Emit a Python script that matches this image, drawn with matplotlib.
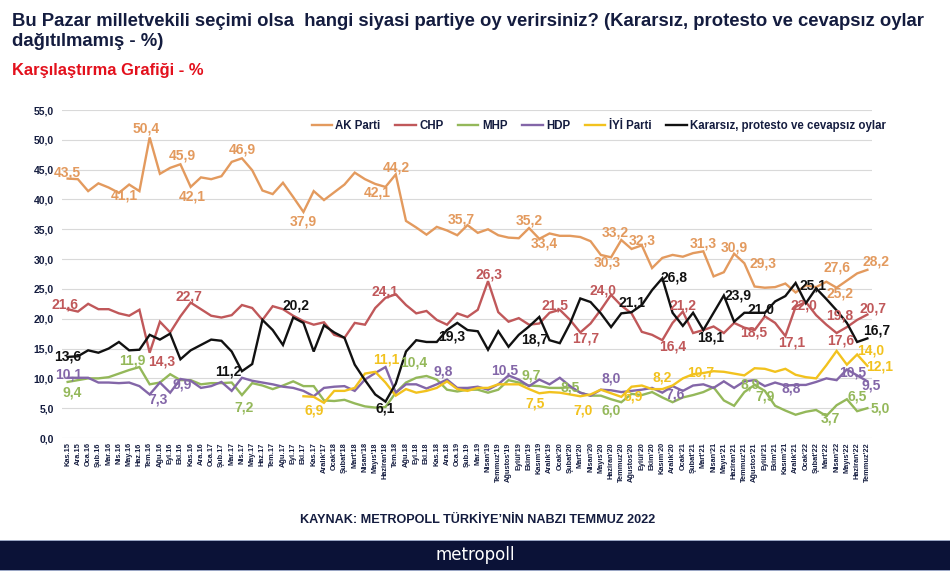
import numpy as np
import matplotlib.pyplot as plt
from matplotlib.patches import Rectangle

# x axis categories
months = ["Kas.15", "Ara.15", "Oca.16", "Şub.16", "Mar.16", "Nis.16", "May.16", "Haz.16", "Tem.16", "Ağu.16",
          "Eyl.16", "Ekl.16", "Kas.16", "Ara.16", "Oca.17", "Şub.17", "Mar.17", "Nis.17", "May.17", "Haz.17",
          "Tem.17", "Ağu.17", "Eyl.17", "Ekl.17", "Kas.17", "Aralık'17", "Ocak'18", "Şubat'18", "Mart'18", "Nisan'18",
          "Mayıs'18", "Haziran'18", "Tem.18", "Ağu.18", "Eyl.18", "Ekl.18", "Kas.18", "Ara.18", "Oca.19", "Şub.19",
          "Mar.19", "Nisan'19", "Temmuz'19", "Ağustos'19", "Eylül'19", "Ekim'19", "Kasım'19", "Aralık'19", "Ocak'20", "Şubat'20",
          "Mart'20", "Nisan'20", "Mayıs'20", "Haziran'20", "Temmuz'20", "Ağustos'20", "Eylül'20", "Ekim'20", "Kasım'20", "Aralık'20",
          "Ocak'21", "Şubat'21", "Mart'21", "Nisan'21", "Mayıs'21", "Haziran'21", "Temmuz'21", "Ağustos'21", "Eylül'21", "Ekim'21",
          "Kasım'21", "Aralık'21", "Ocak'22", "Şubat'22", "Mart'22", "Nisan'22", "Mayıs'22", "Haziran'22", "Temmuz'22"]

ak = [43.5, 43.4, 41.4, 42.7, 42.0, 41.1, 42.5, 41.4, 50.4, 44.3,
      45.3, 45.9, 42.1, 43.7, 43.4, 43.9, 46.3, 46.9, 44.9, 41.5,
      40.9, 42.8, 40.4, 37.9, 41.4, 39.9, 41.2, 42.5, 44.5, 43.4,
      42.6, 42.1, 44.2, 36.4, 35.3, 34.1, 35.4, 34.8, 34.0, 35.7,
      34.4, 35.0, 34.0, 33.6, 33.5, 35.2, 33.4, 34.3, 33.9, 33.9,
      33.7, 33.0, 30.7, 30.3, 33.2, 31.7, 32.3, 28.5, 30.2, 30.7,
      30.4, 31.0, 31.3, 27.1, 27.8, 30.9, 29.3, 25.4, 25.2, 25.3,
      25.9, 24.4, 25.6, 25.3, 26.2, 25.2, 26.4, 27.6, 28.2]

chp = [21.6, 21.2, 22.5, 21.6, 21.6, 20.9, 20.5, 21.5, 14.3, 19.5,
       17.7, 20.4, 22.7, 21.6, 20.5, 20.2, 20.6, 22.3, 21.8, 19.8,
       22.1, 21.6, 20.5, 19.6, 19.0, 19.4, 17.3, 16.8, 19.3, 19.0,
       21.8, 23.5, 24.1, 22.3, 20.9, 21.3, 19.8, 19.0, 20.9, 20.3,
       21.5, 26.3, 21.1, 19.5, 20.1, 19.0, 19.2, 21.0, 21.5, 19.8,
       17.7, 19.2, 21.5, 24.0, 22.2, 20.9, 17.8, 17.3, 16.4, 19.3,
       21.2, 17.6, 18.1, 18.7, 17.6, 19.3, 18.5, 18.1, 20.4, 19.3,
       17.1, 22.0, 22.8, 20.6, 19.0, 17.6, 18.6, 19.8, 20.7]

mhp = [9.4, 9.7, 10.0, 10.0, 10.2, 10.8, 11.4, 11.9, 9.0, 9.3,
       10.7, 9.7, 9.7, 9.0, 9.2, 9.2, 9.3, 7.2, 9.2, 8.8,
       8.2, 8.8, 9.5, 8.7, 8.7, 6.3, 6.2, 6.4, 5.8, 5.3,
       5.1, 5.2, 7.6, 9.3, 10.1, 10.4, 9.8, 8.1, 7.8, 8.1,
       8.1, 7.6, 8.1, 9.7, 9.3, 8.8, 8.7, 8.4, 8.4, 8.5,
       7.6, 7.1, 7.1, 6.5, 6.0, 7.4, 7.2, 7.7, 6.8, 6.0,
       6.8, 7.2, 7.7, 8.5, 6.3, 5.4, 7.7, 8.9, 7.9, 5.4,
       4.6, 3.9, 4.4, 4.7, 3.7, 5.5, 6.5, 4.5, 5.0]

hdp = [10.1, 10.1, 10.1, 9.3, 9.3, 9.2, 9.3, 8.7, 7.3, 9.3,
       7.6, 9.9, 9.6, 8.4, 8.7, 9.4, 7.9, 10.1, 9.6, 9.3,
       9.0, 8.6, 8.4, 7.9, 7.0, 8.4, 8.6, 8.7, 7.9, 9.8,
       10.9, 11.9, 7.6, 9.0, 9.0, 8.3, 9.0, 9.8, 8.4, 8.4,
       8.6, 8.1, 9.0, 10.5, 9.8, 8.7, 9.8, 9.0, 10.1, 8.7,
       7.6, 7.1, 8.1, 8.0, 7.7, 7.9, 8.1, 8.4, 7.6, 8.7,
       7.9, 8.8, 9.0, 8.4, 9.5, 8.4, 9.5, 9.7, 8.7, 9.3,
       8.8, 8.9, 8.9, 9.4, 10.0, 9.7, 11.5, 10.5, 9.5]

iyi = [np.nan] * 23 + [
       7.0, 6.9, 5.9, 7.9, 7.9, 8.4, 10.8,
       11.1, 9.3, 7.1, 8.2, 7.6, 7.9, 8.4, 9.5, 8.2, 7.9,
       8.4, 8.4, 9.0, 9.0, 9.0, 8.2, 7.5, 7.7, 7.6, 7.3,
       7.0, 7.3, 8.1, 7.5, 6.9, 8.6, 8.8, 8.2, 8.2, 8.8,
       10.0, 10.7, 10.9, 11.2, 11.1, 10.8, 10.5, 11.7, 11.6, 11.1,
       11.6, 10.6, 10.2, 10.0, 12.2, 14.6, 12.3, 14.0, 12.1]

kararsiz = [13.6, 13.7, 14.7, 14.3, 15.0, 16.1, 14.7, 14.8, 17.3, 16.5,
            17.5, 13.2, 14.7, 15.6, 16.5, 16.3, 14.5, 11.2, 12.4, 19.8,
            18.1, 15.6, 20.2, 19.3, 14.5, 18.9, 17.7, 16.8, 12.3, 9.7,
            7.3, 6.1, 9.1, 14.5, 16.4, 16.1, 16.1, 18.1, 19.3, 18.1,
            17.9, 14.8, 17.9, 15.3, 17.3, 18.7, 20.3, 16.4, 15.9, 19.2,
            23.4, 22.8, 20.9, 18.6, 20.9, 21.1, 22.3, 24.8, 26.8, 21.0,
            18.8, 21.0, 18.1, 21.0, 23.9, 19.5, 21.0, 21.0, 21.0, 22.9,
            23.8, 26.0, 22.6, 25.1, 23.3, 21.4, 19.3, 16.1, 16.7]

series = [
    ("AK Parti", ak, "#E39A5E"),
    ("CHP", chp, "#C0585A"),
    ("MHP", mhp, "#94B85A"),
    ("HDP", hdp, "#8366A8"),
    ("İYİ Parti", iyi, "#F2C21E"),
    ("Kararsız, protesto ve cevapsız oylar", kararsiz, "#111111"),
]

# data labels: (series index, point index, dx px, dy px)
labels = [
    (0, 0, 0, 6), (0, 5, 5, -3), (0, 8, -4, 9), (0, 11, 2, 9), (0, 12, 2, -10),
    (0, 17, 0, 9), (0, 23, 0, -10), (0, 31, -8, -6), (0, 32, 1, 7), (0, 39, -6, 6),
    (0, 45, 0, 8), (0, 46, 5, -5), (0, 53, -4, -5), (0, 54, -6, 8), (0, 56, 0, 5),
    (0, 62, 0, 8), (0, 65, 0, 6), (0, 66, 19, 0), (0, 75, 3, -6), (0, 77, -20, 6),
    (0, 78, 9, 8),
    (1, 0, -3, 5), (1, 8, 12, -9), (1, 12, -2, 6), (1, 32, -11, 3), (1, 41, 1, 7),
    (1, 48, -5, 4), (1, 50, 5, -6), (1, 53, -8, 4), (1, 58, 10, -6), (1, 60, 0, 6),
    (1, 66, 9, -5), (1, 70, 6, -6), (1, 71, 8, 1), (1, 75, 4, -7), (1, 77, -17, 4),
    (1, 78, 6, 6),
    (2, 0, 5, -11), (2, 7, -7, 7), (2, 17, 2, -12), (2, 35, -13, 13), (2, 43, 23, 5),
    (2, 49, 0, 0), (2, 54, -10, -8), (2, 67, -4, 0), (2, 68, 0, -6), (2, 74, 4, -3),
    (2, 76, 10, 3), (2, 78, 13, 0),
    (3, 0, 1, 3), (3, 8, 8, -5), (3, 11, 2, -6), (3, 37, -4, 8), (3, 43, -4, 5),
    (3, 53, 0, 12), (3, 58, 13, -2), (3, 70, 6, -3), (3, 77, -4, 3), (3, 78, 4, -4),
    (4, 24, 0, -14), (4, 30, 11, 12), (4, 46, -4, -10), (4, 50, 3, -14), (4, 54, 12, 0),
    (4, 58, 0, 12), (4, 61, 8, 2), (4, 77, 14, 4), (4, 78, 12, -1),
    (5, 0, 0, 0), (5, 17, -14, 0), (5, 22, 3, 12), (5, 31, 0, -7), (5, 38, -6, -14),
    (5, 45, 6, -13), (5, 55, 0, 10), (5, 58, 12, 1), (5, 62, 7, -7), (5, 64, 14, 0),
    (5, 67, 6, 3), (5, 73, -3, 3), (5, 78, 9, 8),
]

navy = "#141c3f"
plt.rcParams['font.family'] = ['Liberation Sans', 'DejaVu Sans']

fig = plt.figure(figsize=(9.5, 5.71), dpi=100)
ax = fig.add_axes([62 / 950, 1 - 438 / 571, 810 / 950, 328 / 571])

x = np.arange(len(months))
for name, vals, col in series:
    ax.plot(x, vals, color=col, lw=1.7, label=name, solid_joinstyle='miter')

for si, pi, dx, dy in labels:
    name, vals, col = series[si]
    v = vals[pi]
    ax.annotate(f"{v:.1f}".replace('.', ','), (x[pi], v),
                xytext=(dx * 0.72, dy * 0.72), textcoords='offset points',
                ha='center', va='center', fontsize=10, fontweight='bold', color=col)

ax.set_xlim(-0.55, 78.45)
ax.set_ylim(0, 55)
ax.set_yticks(np.arange(0, 56, 5))
ax.set_yticklabels([f"{t:.1f}".replace('.', ',') for t in np.arange(0, 56, 5)],
                   fontsize=7.5, fontweight='bold', color=navy)
ax.set_xticks(x)
ax.set_xticklabels(months, rotation=90, fontsize=5.3, fontweight='bold', color=navy)
ax.tick_params(axis='both', length=0, pad=6)
ax.tick_params(axis='x', pad=3)
ax.grid(axis='y', color='#d9d9d9', lw=0.8)
ax.set_axisbelow(True)
for s in ax.spines.values():
    s.set_visible(False)

leg = ax.legend(loc='upper right', bbox_to_anchor=(1.03, 1.0), ncol=6, frameon=False,
                handlelength=1.75, handletextpad=0.3, columnspacing=1.3,
                prop={'weight': 'bold', 'size': 8.3})
for t in leg.get_texts():
    t.set_color(navy)

# titles
fig.text(12 / 950, 1 - 21 / 571, "Bu Pazar milletvekili seçimi olsa  hangi siyasi partiye oy verirsiniz? (Kararsız, protesto ve cevapsız oylar",
         fontsize=13.3, fontweight='bold', color=navy, va='center', ha='left')
fig.text(12 / 950, 1 - 42 / 571, "dağıtılmamış - %)",
         fontsize=13.3, fontweight='bold', color=navy, va='center', ha='left')
fig.text(12 / 950, 1 - 71 / 571, "Karşılaştırma Grafiği - %",
         fontsize=11.9, fontweight='bold', color='#e3101c', va='center', ha='left')
fig.text(478 / 950, 1 - 520 / 571, "KAYNAK: METROPOLL TÜRKİYE’NİN NABZI TEMMUZ 2022",
         fontsize=9.1, fontweight='bold', color=navy, va='center', ha='center')

# footer band
fig.patches.append(Rectangle((0, 0), 1, 31 / 571, transform=fig.transFigure,
                             facecolor='#0b1237', edgecolor='none'))
fig.patches.append(Rectangle((0, 30 / 571), 1, 1.5 / 571, transform=fig.transFigure,
                             facecolor='#9aa6c4', edgecolor='none'))
fig.patches.append(Rectangle((0, 0), 1, 1.5 / 571, transform=fig.transFigure,
                             facecolor='#9aa6c4', edgecolor='none'))
fig.text(475 / 950, 1 - 555 / 571, "metropoll", fontsize=12, color='white',
         va='center', ha='center', family=['DejaVu Sans'])

fig.savefig("out.png", dpi=100)
